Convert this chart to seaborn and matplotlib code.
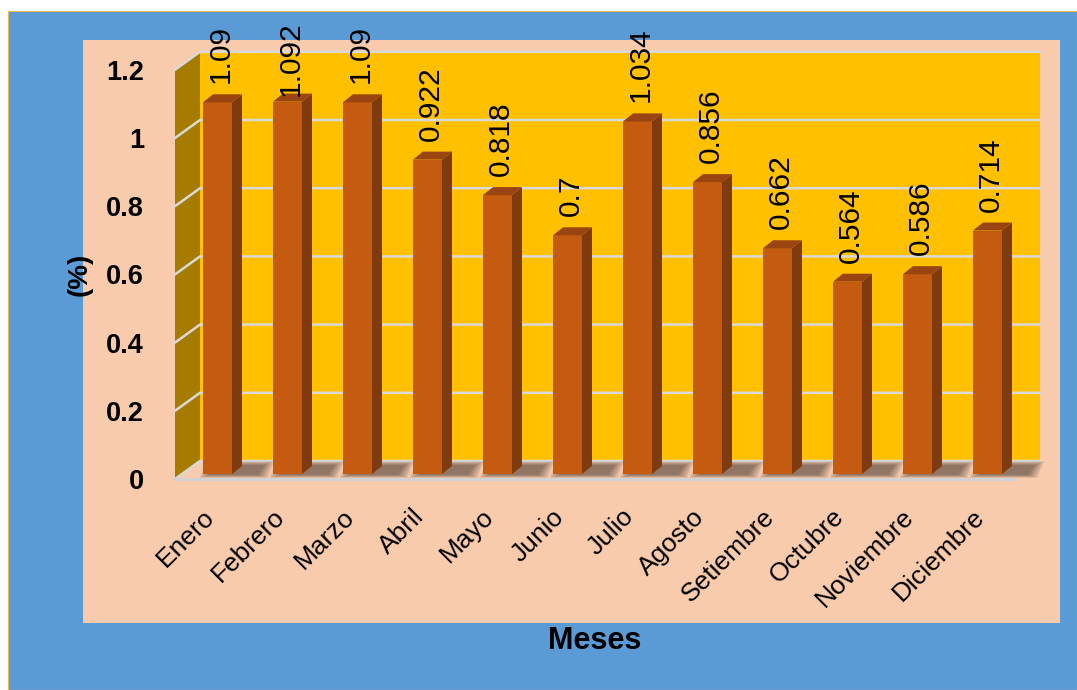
import matplotlib
matplotlib.use("Agg")
import matplotlib.pyplot as plt
from matplotlib.patches import Polygon, Rectangle
import pandas as pd
import seaborn as sns

# ---- data -------------------------------------------------------------
meses = ["Enero", "Febrero", "Marzo", "Abril", "Mayo", "Junio", "Julio",
         "Agosto", "Setiembre", "Octubre", "Noviembre", "Diciembre"]
valores = [1.09, 1.092, 1.09, 0.922, 0.818, 0.7, 1.034, 0.856, 0.662,
           0.564, 0.586, 0.714]
etiquetas = ["1.09", "1.092", "1.09", "0.922", "0.818", "0.7", "1.034",
             "0.856", "0.662", "0.564", "0.586", "0.714"]
yticks = [0, 0.2, 0.4, 0.6, 0.8, 1.0, 1.2]
ytick_labels = ["0", "0.2", "0.4", "0.6", "0.8", "1", "1.2"]

# ---- style ------------------------------------------------------------
sns.set_style("white")
plt.rcParams["font.family"] = ["Liberation Sans", "DejaVu Sans"]
plt.rcParams["text.color"] = "black"
plt.rcParams["axes.labelcolor"] = "black"
plt.rcParams["xtick.color"] = "black"
plt.rcParams["ytick.color"] = "black"

AZUL = "#5B9BD5"
DURAZNO = "#F8CBAD"
ORO = "#FFC000"
ORO_OSCURO = "#A67C00"
BARRA = "#C55A11"
BARRA_LADO = "#7F3A0D"
BARRA_TOPE = "#9A4511"
REJILLA = "#D9D9D9"

W, H = 1077, 690
fig = plt.figure(figsize=(W / 100, H / 100), dpi=100)
fig.patch.set_facecolor("white")


def fx(px):
    return px / W


def fy(py):
    return 1 - py / H


# outer chart area and inner plot area
fig.add_artist(Rectangle((fx(8), 0), 1 - fx(8), fy(11), transform=fig.transFigure,
                         facecolor=AZUL, edgecolor="#E9B949", lw=0.8, zorder=-10))
fig.add_artist(Rectangle((fx(83), fy(623)), fx(1060) - fx(83), fy(40) - fy(623),
                         transform=fig.transFigure, facecolor=DURAZNO,
                         edgecolor="none", zorder=-9))

# ---- axes: front plane (walls, ticks) and bar plane -------------------
ymax = 1.2
upx = 70.0    # pixels per category
vpx = 341.0   # pixels per unit of value
x0, x1 = -0.507, 11.493


def plane(left_px, zero_px):
    a = fig.add_axes([fx(left_px), fy(zero_px), (x1 - x0) * upx / W, ymax * vpx / H])
    a.set_facecolor("none")
    return a


ax_f = plane(175, 479)
ax = plane(182, 474)

for a in (ax_f, ax):
    a.set_xlim(x0, x1)
    a.set_ylim(0, ymax)

# walls
bx, by = 25 / upx, 18 / vpx
ax_f.add_patch(Polygon([(x0, 0), (x0, ymax), (x0 + bx, ymax + by), (x0 + bx, by)],
                       closed=True, facecolor=ORO_OSCURO, edgecolor="none",
                       clip_on=False, zorder=0))
ax_f.add_patch(Rectangle((x0 + bx, by), x1 - x0, ymax, facecolor=ORO,
                         edgecolor="none", clip_on=False, zorder=0))
for v in yticks:
    ax_f.plot([x0, x0 + bx, x1 + bx], [v, v + by, v + by], color=REJILLA,
              lw=1.8, clip_on=False, zorder=1, solid_joinstyle="miter")
ax_f.plot([x0, x1], [0, 0], color="#D2D2D2", lw=2.2, clip_on=False, zorder=1)

for s in ax_f.spines.values():
    s.set_visible(False)
ax_f.set_xticks(range(len(meses)))
ax_f.set_xticklabels(meses, rotation=45, ha="right", va="center",
                     rotation_mode="anchor", fontsize=19)
ax_f.tick_params(axis="x", length=0, pad=24.5)
ax_f.set_yticks(yticks)
ax_f.set_yticklabels(ytick_labels, fontweight="bold", fontsize=19.5)
ax_f.tick_params(axis="y", length=0, pad=22.3)

ax_f.set_xlabel("Meses", fontsize=22, fontweight="bold")
ax_f.xaxis.set_label_coords(0.5, (479 - 641) / (ymax * vpx))
ax_f.xaxis.label.set_va("center")
ax_f.set_ylabel("(%)", fontsize=20, fontweight="bold")
ax_f.yaxis.set_label_coords((80 - 175) / ((x1 - x0) * upx), 0.5)
ax_f.yaxis.label.set_va("center")

# ---- bars -------------------------------------------------------------
df = pd.DataFrame({"Mes": meses, "Valor": valores})
sns.barplot(data=df, x="Mes", y="Valor", ax=ax, color=BARRA, saturation=1,
            width=29 / upx, errorbar=None, edgecolor="#B8520F", linewidth=0.6,
            zorder=3)
ax.set_xlim(x0, x1)
ax.set_ylim(0, ymax)
ax.axis("off")

barras = list(ax.patches)
dx, dy = 10 / upx, 8 / vpx
for p in barras:
    xl, w, h = p.get_x(), p.get_width(), p.get_height()
    xr = xl + w
    # soft shadow on the floor
    for k in range(7):
        g = k * 1.6
        pts = [(xl + (6 - g) / upx, (-1 - 0.3 * g) / vpx),
               (xr + (26 + g) / upx, (-1 - 0.3 * g) / vpx),
               (xr + (33 + g) / upx, (9 + 0.4 * g) / vpx),
               (xl + (13 - g) / upx, (9 + 0.4 * g) / vpx)]
        ax.add_patch(Polygon(pts, closed=True, facecolor="black", alpha=0.07,
                             edgecolor="none", zorder=2, clip_on=False))
    ax.add_patch(Polygon([(xr, 0), (xr, h), (xr + dx, h + dy), (xr + dx, dy)],
                         closed=True, facecolor=BARRA_LADO, edgecolor="none",
                         zorder=3, clip_on=False))
    ax.add_patch(Polygon([(xl, h), (xr, h), (xr + dx, h + dy), (xl + dx, h + dy)],
                         closed=True, facecolor=BARRA_TOPE, edgecolor="none",
                         zorder=3, clip_on=False))

# value labels above each bar, kept inside the chart area
textos = []
for p, lab in zip(barras, etiquetas):
    cx = p.get_x() + p.get_width() / 2
    t = ax.annotate(lab, (cx, p.get_height()), xytext=(3 * 0.72, 19 * 0.72),
                    textcoords="offset points", rotation=90, ha="center",
                    va="bottom", fontsize=21.5, color="black", zorder=5,
                    annotation_clip=False)
    textos.append(t)

fig.canvas.draw()
renderer = fig.canvas.get_renderer()
limite = H - 21
for t in textos:
    bb = t.get_window_extent(renderer)
    if bb.y1 > limite:
        ox, oy = t.xyann
        t.xyann = (ox, oy - (bb.y1 - limite) * 0.72)

fig.savefig("out.png", dpi=100)
